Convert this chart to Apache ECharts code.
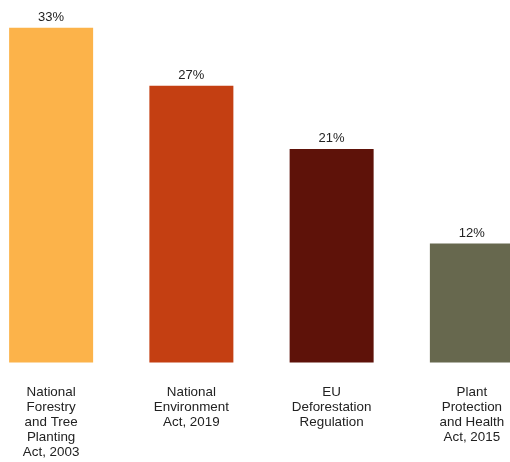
<!DOCTYPE html>
<html>
<head>
<meta charset="utf-8">
<script src="https://cdn.jsdelivr.net/npm/echarts@6/dist/echarts.min.js"></script>
<style>html,body{margin:0;padding:0;background:#fff;}#c{width:510px;height:462px;}</style>
</head>
<body>
<div id="c"></div>
<script>
const categories = [
  "National\nForestry\nand Tree\nPlanting\nAct, 2003",
  "National\nEnvironment\nAct, 2019",
  "EU\nDeforestation\nRegulation",
  "Plant\nProtection\nand Health\nAct, 2015"
];
const values = [32.9, 27.2, 21.0, 11.7];
const colors = ["#FCB34A", "#C43F12", "#5E1209", "#67684E"];

const chart = echarts.init(document.getElementById('c'), null, {renderer: 'canvas'});
chart.setOption({
  animation: false,
  grid: {left: -19, width: 561, top: 6.5, bottom: 99.5, containLabel: false, outerBoundsMode: 'none'},
  xAxis: {
    type: 'category',
    data: categories,
    axisLine: {show: false},
    axisTick: {show: false},
    axisLabel: {
      interval: 0,
      margin: 22,
      color: '#222',
      fontFamily: 'Liberation Sans, Arial, sans-serif',
      fontSize: 13.4,
      lineHeight: 15,
      verticalAlign: 'top'
    }
  },
  yAxis: {
    type: 'value', min: 0, max: 35, show: false,
    splitLine: {show: false}
  },
  series: [{
    type: 'bar',
    barWidth: 84,
    data: values.map((v, i) => ({value: v, itemStyle: {color: colors[i]}})),
    label: {
      show: true,
      position: 'top',
      distance: 4,
      color: '#222',
      fontFamily: 'Liberation Sans, Arial, sans-serif',
      fontSize: 13,
      formatter: p => Math.round(p.value) + '%'
    }
  }]
});
</script>
</body>
</html>
